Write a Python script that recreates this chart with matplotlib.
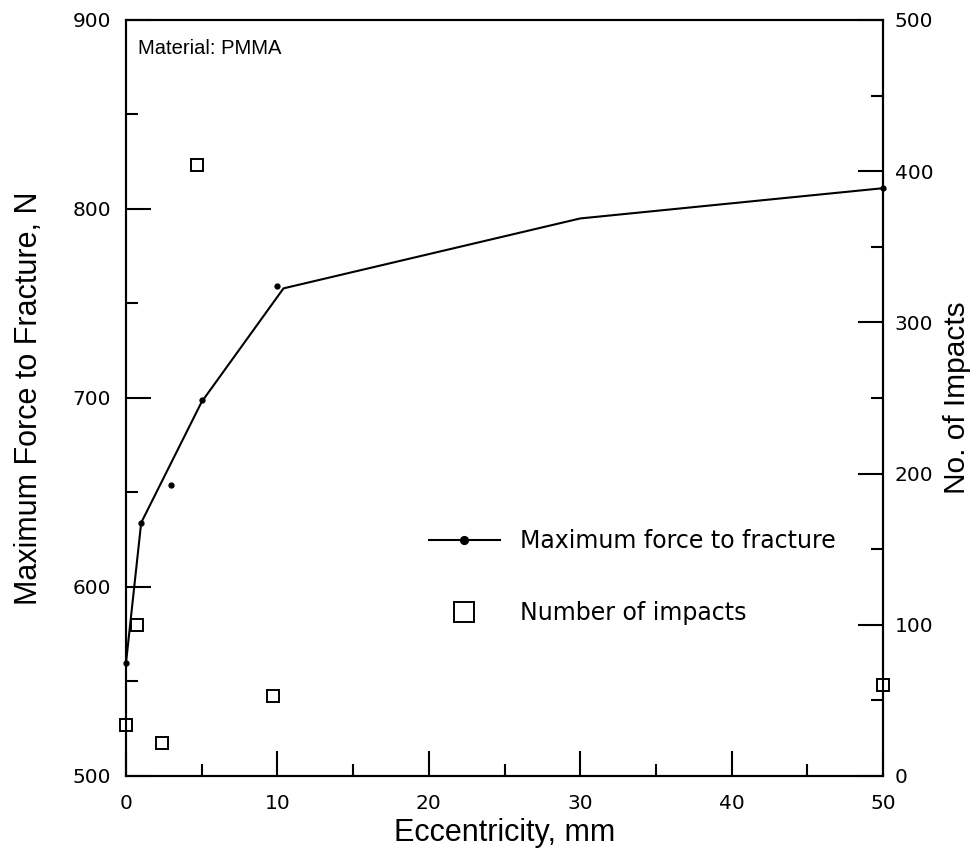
import matplotlib
matplotlib.use("Agg")
import matplotlib.pyplot as plt
from matplotlib.ticker import MultipleLocator
from matplotlib.legend_handler import HandlerTuple

# Data
ecc_force = [0, 1, 3, 5, 10, 50]            # eccentricity, mm
max_force = [560, 634, 654, 699, 759, 811]  # N

# fitted curve drawn through the force data
ecc_fit = [0, 1, 5, 10.4, 30, 50]
force_fit = [560, 634, 698, 758, 795, 811]

ecc_impacts = [0, 0.7, 2.4, 4.7, 9.7, 50]
n_impacts = [34, 100, 22, 404, 53, 60]

plt.rcParams['font.family'] = ['Liberation Sans', 'DejaVu Sans']

fig = plt.figure(figsize=(9.74, 8.58), dpi=100)
ax = fig.add_axes([0.1294, 0.0956, 0.7772, 0.8811])
ax2 = ax.twinx()

fit_line, = ax.plot(ecc_fit, force_fit, color='k', linewidth=1.5)
pts, = ax.plot(ecc_force, max_force, linestyle='none', marker='o',
               markersize=3.5, color='k', clip_on=False)
sq, = ax2.plot(ecc_impacts, n_impacts, linestyle='none', marker='s',
               markersize=9, markerfacecolor='white', markeredgecolor='k',
               markeredgewidth=1.4, clip_on=False)

ax.set_xlim(0, 50)
ax.set_ylim(500, 900)
ax2.set_ylim(0, 500)

ax.xaxis.set_major_locator(MultipleLocator(10))
ax.xaxis.set_minor_locator(MultipleLocator(5))
ax.yaxis.set_major_locator(MultipleLocator(100))
ax.yaxis.set_minor_locator(MultipleLocator(50))
ax2.yaxis.set_major_locator(MultipleLocator(100))
ax2.yaxis.set_minor_locator(MultipleLocator(50))

for a in (ax, ax2):
    for s in a.spines.values():
        s.set_linewidth(1.5)
    a.tick_params(which='major', direction='in', length=18, width=1.5,
                  labelsize=14.5, labelfontfamily='DejaVu Sans')
    a.tick_params(which='minor', direction='in', length=8.5, width=1.5)

ax.tick_params(axis='x', which='both', top=False, pad=13)
ax.tick_params(axis='y', which='both', right=False, pad=11)
ax2.tick_params(axis='y', which='both', left=False, pad=8.5)

ax.set_xlabel('Eccentricity, mm', fontsize=22)
ax.set_ylabel('Maximum Force to Fracture, N', fontsize=22)
ax2.set_ylabel('No. of Impacts', fontsize=21.5)
ax.xaxis.set_label_coords(0.5, -0.055)
ax.yaxis.set_label_coords(-0.108, 0.5)
ax2.yaxis.set_label_coords(1.079, 0.5)

ax.text(0.016, 0.975, 'Material: PMMA', transform=ax.transAxes,
        fontsize=14.5, va='top', ha='left')

leg = ax2.legend([(fit_line, pts), sq],
                 ['Maximum force to fracture', 'Number of impacts'],
                 handler_map={tuple: HandlerTuple(ndivide=1)},
                 loc='upper left', bbox_to_anchor=(0.40, 0.327),
                 frameon=False, borderpad=0, borderaxespad=0,
                 handlelength=3.0, handletextpad=0.85, labelspacing=2.05,
                 markerscale=1.6, prop={'family': 'DejaVu Sans', 'size': 17})

fig.savefig('out.png', dpi=100)
